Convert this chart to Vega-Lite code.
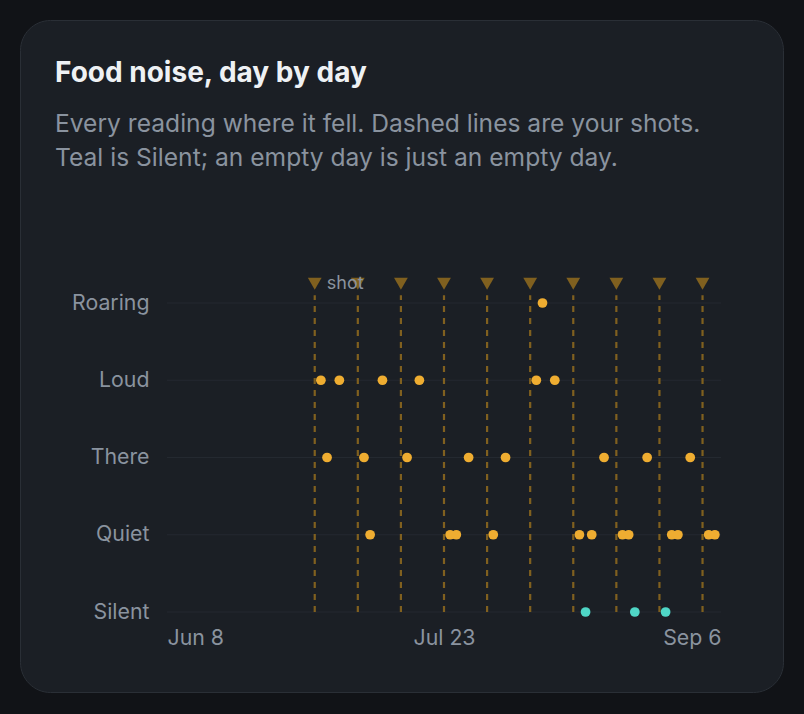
{
  "$schema": "https://vega.github.io/schema/vega-lite/v6.json",
  "autosize": {"type": "none"},
  "padding": {"left": 20, "top": 20, "right": 21, "bottom": 22},
  "width": 763,
  "height": 672,
  "background": "#111317",
  "title": {
    "text": "Food noise, day by day",
    "subtitle": [
      "Every reading where it fell. Dashed lines are your shots.",
      "Teal is Silent; an empty day is just an empty day."
    ],
    "anchor": "start",
    "frame": "group",
    "orient": "top",
    "offset": -151,
    "dx": 35,
    "font": "Inter",
    "fontSize": 28,
    "fontWeight": 700,
    "color": "#eef1f4",
    "subtitleFont": "Inter",
    "subtitleFontSize": 24.6,
    "subtitleColor": "#8a939f",
    "subtitleLineHeight": 34,
    "subtitlePadding": 25
  },
  "datasets": {
    "levels": [
      {"level": "Silent", "score": 0},
      {"level": "Quiet", "score": 1},
      {"level": "There", "score": 2},
      {"level": "Loud", "score": 3},
      {"level": "Roaring", "score": 4}
    ],
    "shots": [
      {"date": "2025-07-02"}, {"date": "2025-07-09"}, {"date": "2025-07-16"},
      {"date": "2025-07-23"}, {"date": "2025-07-30"}, {"date": "2025-08-06"},
      {"date": "2025-08-13"}, {"date": "2025-08-20"}, {"date": "2025-08-27"},
      {"date": "2025-09-03"}
    ],
    "shotLabel": [{"date": "2025-07-02", "label": "shot"}],
    "readings": [
      {"date": "2025-07-03", "level": "Loud"},
      {"date": "2025-07-04", "level": "There"},
      {"date": "2025-07-06", "level": "Loud"},
      {"date": "2025-07-10", "level": "There"},
      {"date": "2025-07-11", "level": "Quiet"},
      {"date": "2025-07-13", "level": "Loud"},
      {"date": "2025-07-17", "level": "There"},
      {"date": "2025-07-19", "level": "Loud"},
      {"date": "2025-07-24", "level": "Quiet"},
      {"date": "2025-07-25", "level": "Quiet"},
      {"date": "2025-07-27", "level": "There"},
      {"date": "2025-07-31", "level": "Quiet"},
      {"date": "2025-08-02", "level": "There"},
      {"date": "2025-08-07", "level": "Loud"},
      {"date": "2025-08-08", "level": "Roaring"},
      {"date": "2025-08-10", "level": "Loud"},
      {"date": "2025-08-14", "level": "Quiet"},
      {"date": "2025-08-15", "level": "Silent"},
      {"date": "2025-08-16", "level": "Quiet"},
      {"date": "2025-08-18", "level": "There"},
      {"date": "2025-08-21", "level": "Quiet"},
      {"date": "2025-08-22", "level": "Quiet"},
      {"date": "2025-08-23", "level": "Silent"},
      {"date": "2025-08-25", "level": "There"},
      {"date": "2025-08-28", "level": "Silent"},
      {"date": "2025-08-29", "level": "Quiet"},
      {"date": "2025-08-30", "level": "Quiet"},
      {"date": "2025-09-01", "level": "There"},
      {"date": "2025-09-04", "level": "Quiet"},
      {"date": "2025-09-05", "level": "Quiet"}
    ]
  },
  "layer": [
    {
      "data": {"name": "levels"},
      "mark": {"type": "rule", "color": "#242930", "strokeWidth": 1},
      "encoding": {
        "y": {
          "field": "score",
          "type": "quantitative",
          "scale": {"domain": [0, 4], "range": [592, 283], "nice": false, "zero": false},
          "axis": {
            "values": [0, 1, 2, 3, 4],
            "labelExpr": "['Silent','Quiet','There','Loud','Roaring'][datum.value]",
            "title": null,
            "domain": false,
            "ticks": false,
            "grid": false,
            "offset": -147,
            "labelPadding": 18,
            "labelFont": "Inter",
            "labelFontSize": 21.3,
            "labelColor": "#8a939f"
          }
        },
        "x": {
          "datum": {"year": 2025, "month": 6, "date": 8, "utc": true},
          "type": "temporal"
        },
        "x2": {"datum": {"year": 2025, "month": 9, "date": 6, "utc": true}}
      }
    },
    {
      "data": {"name": "shots"},
      "mark": {"type": "rule", "color": "#80601f", "strokeWidth": 2.2, "strokeDash": [6, 6]},
      "encoding": {
        "x": {
          "field": "date",
          "type": "temporal",
          "scale": {
            "type": "utc",
            "domain": [
              {"year": 2025, "month": 6, "date": 8, "utc": true},
              {"year": 2025, "month": 9, "date": 6, "utc": true}
            ],
            "range": [147, 701]
          },
          "axis": {
            "values": [
              {"year": 2025, "month": 6, "date": 8, "utc": true},
              {"year": 2025, "month": 7, "date": 23, "utc": true},
              {"year": 2025, "month": 9, "date": 6, "utc": true}
            ],
            "format": "%b %-d",
            "title": null,
            "domain": false,
            "ticks": false,
            "grid": false,
            "labelFlush": true,
            "offset": -80,
            "labelPadding": 15,
            "labelFont": "Inter",
            "labelFontSize": 21.3,
            "labelColor": "#8a939f"
          }
        },
        "y": {"datum": 0, "type": "quantitative"},
        "y2": {"datum": 4.1}
      }
    },
    {
      "data": {"name": "shots"},
      "mark": {"type": "point", "shape": "triangle-down", "filled": true, "size": 190, "color": "#80601f", "opacity": 1},
      "encoding": {
        "x": {"field": "date", "type": "temporal"},
        "y": {"datum": 4.25, "type": "quantitative"}
      }
    },
    {
      "data": {"name": "shotLabel"},
      "mark": {"type": "text", "align": "left", "baseline": "middle", "dx": 12, "font": "Inter", "fontSize": 18, "color": "#8a939f"},
      "encoding": {
        "x": {"field": "date", "type": "temporal"},
        "y": {"datum": 4.25, "type": "quantitative"},
        "text": {"field": "label"}
      }
    },
    {
      "data": {"name": "readings"},
      "transform": [
        {"lookup": "level", "from": {"data": {"name": "levels"}, "key": "level", "fields": ["score"]}}
      ],
      "mark": {"type": "circle", "size": 95, "opacity": 1},
      "encoding": {
        "x": {"field": "date", "type": "temporal"},
        "y": {"field": "score", "type": "quantitative"},
        "color": {
          "field": "level",
          "type": "nominal",
          "scale": {
            "domain": ["Silent", "Quiet", "There", "Loud", "Roaring"],
            "range": ["#4fd6c6", "#efad31", "#efad31", "#efad31", "#efad31"]
          },
          "legend": null
        }
      }
    }
  ],
  "config": {
    "view": {"fill": "#1b1f25", "stroke": "#2a2f36", "strokeWidth": 1, "cornerRadius": 30},
    "font": "Inter"
  }
}
